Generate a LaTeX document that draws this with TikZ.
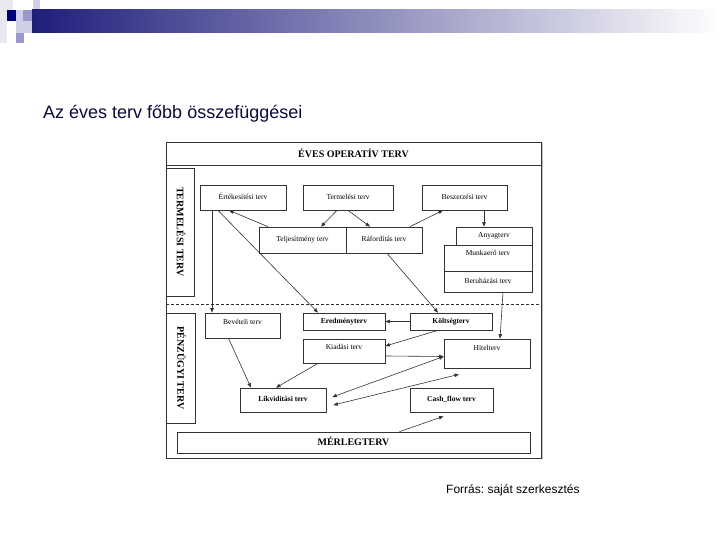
\documentclass[tikz,border=0pt]{standalone}
\usepackage{fontspec}
\setmainfont{Liberation Serif}
\newfontfamily\arialfont{Liberation Sans}
\usetikzlibrary{arrows.meta,calc}
\definecolor{navy}{HTML}{000080}
\definecolor{barnavy}{HTML}{1E1E7C}
\definecolor{lav}{HTML}{9999CC}
\definecolor{palelav}{HTML}{CFCFE8}
\definecolor{faintlav}{HTML}{E8E8F3}
\definecolor{titleink}{HTML}{0A0A40}
\definecolor{ink}{HTML}{333333}
\tikzset{
  tervbox/.style={draw=ink,line width=0.7pt,inner sep=1pt,align=center,text height=5pt,text depth=1.5pt,font=\fontsize{7.5}{8}\selectfont},
  boldbox/.style={tervbox,font=\fontsize{7.5}{8}\selectfont\bfseries},
  sidebox/.style={draw=ink,line width=0.7pt,inner sep=0pt,rotate=-90,text height=6.5pt,text depth=0pt,font=\fontsize{10}{11}\selectfont\bfseries},
  flow/.style={-{Triangle[length=4.5pt,width=3.5pt]},draw=ink,line width=0.6pt},
  dflow/.style={{Triangle[length=4.5pt,width=3.5pt]}-{Triangle[length=4.5pt,width=3.5pt]},draw=ink,line width=0.6pt}}

\begin{document}
\frenchspacing
\begin{tikzpicture}[x=1pt,y=-1pt]
  \useasboundingbox[fill=white] (0,0) rectangle (720,540);
  % slide decoration
  \fill[faintlav] (0,0) rectangle (13,10);
  \fill[faintlav] (0,10) rectangle (7,43);
  \fill[navy] (7,10) rectangle (16,21);
  \fill[palelav] (16,10) rectangle (23,21);
  \fill[lav] (23,10) rectangle (33,21);
  \fill[palelav] (33,0) rectangle (40,21);
  \fill[palelav] (16,21) rectangle (32,33);
  \fill[lav] (16,33) rectangle (24,43);
  \shade[left color=barnavy,right color=white] (32,10) rectangle (720,33);
  \node[anchor=base west,inner sep=0pt,text=titleink,font=\arialfont\fontsize{18}{20}\selectfont] (title) at (43,119) {Az éves terv főbb összefüggései};
  \node[anchor=base west,inner sep=0pt,font=\arialfont\fontsize{12}{14}\selectfont] (forras) at (446,493) {Forrás: saját szerkesztés};
  % frame
  \draw[black!25,line width=2pt] (542,143) -- (542,459);
  \draw[ink,line width=0.7pt] (166,142) rectangle (541,458);
  \draw[ink,line width=0.7pt] (166,165) -- (541,165);
  \draw[ink,line width=0.6pt,dash pattern=on 3pt off 2pt] (166,304) -- (541,304);
  \node[font=\fontsize{10}{11}\selectfont\bfseries] (head) at (353.5,153.5) {ÉVES OPERATÍV TERV};
  \node[sidebox,minimum width=128pt,minimum height=28pt] (termside) at (180,232) {TERMELÉSI TERV};
  \node[sidebox,minimum width=110pt,minimum height=29pt] (penzside) at (180.5,368) {PÉNZÜGYI TERV};
  % termelesi terv
  \node[tervbox,minimum width=86pt,minimum height=25pt] (ertek) at (243,197.5) {Értékesítési terv};
  \node[tervbox,minimum width=90pt,minimum height=25pt] (term) at (348,197.5) {Termelési terv};
  \node[tervbox,minimum width=85pt,minimum height=25pt] (besz) at (464.5,197.5) {Beszerzési terv};
  \node[tervbox,minimum width=87pt,minimum height=26pt] (telj) at (302.5,240) {Teljesítmény terv};
  \node[tervbox,minimum width=76pt,minimum height=26pt] (rafo) at (384,240) {Ráfordítás terv};
  \node[tervbox,minimum width=76pt,minimum height=18pt] (anyag) at (494,236) {Anyagterv};
  \node[tervbox,minimum width=88pt,minimum height=26pt,text depth=9.5pt] (munka) at (488,258) {Munkaerő terv};
  \node[tervbox,minimum width=88pt,minimum height=21pt] (beruh) at (488,281.5) {Beruházási terv};
  % penzugyi terv
  \node[tervbox,minimum width=75pt,minimum height=25pt,text depth=6.5pt] (bevet) at (242.5,325.5) {Bevételi terv};
  \node[boldbox,minimum width=82pt,minimum height=17pt] (eredm) at (344,321.5) {Eredményterv};
  \node[boldbox,minimum width=82pt,minimum height=17pt] (kolts) at (451,321.5) {Költségterv};
  \node[tervbox,minimum width=82pt,minimum height=24pt,text depth=7.5pt] (kiad) at (344,351) {Kiadási terv};
  \node[tervbox,minimum width=86pt,minimum height=29pt,text depth=12pt] (hitel) at (487,353.5) {Hitelterv};
  \node[boldbox,minimum width=86pt,minimum height=24pt] (likv) at (283,400) {Likviditási terv};
  \node[boldbox,minimum width=83pt,minimum height=24pt] (cash) at (451.5,400) {Cash\_flow terv};
  \node[boldbox,minimum width=353pt,minimum height=21pt,text height=6.5pt,text depth=0pt,font=\fontsize{10}{11}\selectfont\bfseries] (merleg) at (353.5,442.5) {MÉRLEGTERV};
  % connectors
  \draw[flow] ([xshift=-11pt]term.south) -- ([xshift=18.5pt]telj.north);
  \draw[flow] (term.south) -- ([xshift=-14pt]rafo.north);
  \draw[flow] ([xshift=-34.5pt]telj.north) -- ([xshift=-14pt]ertek.south);
  \draw[flow] ([xshift=26pt]rafo.north) -- ([xshift=-21.5pt]besz.south);
  \draw[flow] ([xshift=19.5pt]besz.south) -- ([xshift=19.5pt]besz.south |- anyag.north);
  \draw[flow] ([xshift=-31pt]ertek.south) -- ([xshift=-31pt]ertek.south |- bevet.north);
  \draw[flow] ([xshift=-25pt]ertek.south) -- ([xshift=-26pt]eredm.north);
  \draw[flow] ([xshift=3pt]rafo.south) -- ([xshift=-13pt]kolts.north);
  \draw[flow] ([xshift=15pt]beruh.south) -- ([xshift=13pt]hitel.north);
  \draw[flow] (kolts.west) -- (eredm.east);
  \draw[flow] ([xshift=-13pt]kolts.south) -- ([yshift=5pt]kiad.east);
  \draw[flow] ([yshift=-5pt]kiad.east) -- ([yshift=-3pt]hitel.west);
  \draw[flow] ([xshift=-14pt]bevet.south) -- ([xshift=-32pt]likv.north);
  \draw[flow] ([xshift=-26pt]kiad.south) -- ([xshift=-7pt]likv.north);
  \draw[dflow] ([xshift=6pt,yshift=3pt]likv.east) -- ([yshift=-3pt]hitel.west);
  \draw[dflow] ([xshift=7pt,yshift=-5pt]likv.east) -- ([xshift=-28pt,yshift=-6pt]hitel.south);
  \draw[flow] ([xshift=46pt]merleg.north) -- ([xshift=-8pt,yshift=-4pt]cash.south);
\end{tikzpicture}
\end{document}
